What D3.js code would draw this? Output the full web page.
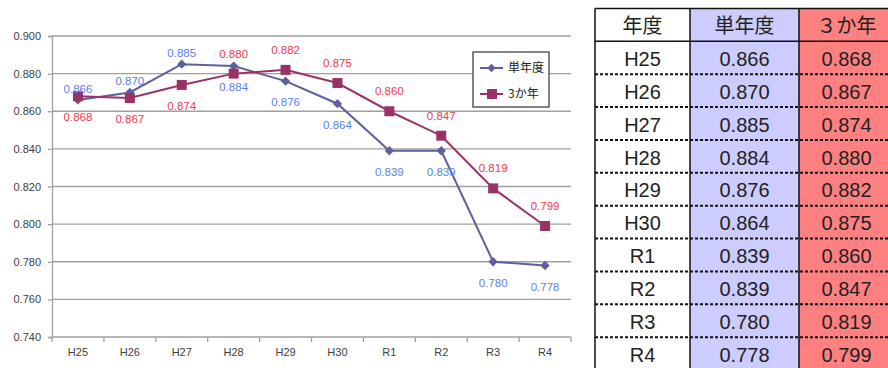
<!DOCTYPE html>
<html>
<head>
<meta charset="utf-8">
<script src="https://cdn.jsdelivr.net/npm/d3@7"></script>
<style>
  body { margin: 0; background: #fff; }
  svg { display: block; font-family: "Liberation Sans", Arial, "Noto Sans CJK JP", sans-serif; }
</style>
</head>
<body>
<div id="chart"></div>
<script>
// data
var years = ['H25', 'H26', 'H27', 'H28', 'H29', 'H30', 'R1', 'R2', 'R3', 'R4'];
var singleYear = [0.866, 0.870, 0.885, 0.884, 0.876, 0.864, 0.839, 0.839, 0.780, 0.778];
var threeYear = [0.868, 0.867, 0.874, 0.880, 0.882, 0.875, 0.860, 0.847, 0.819, 0.799];
var seriesNames = ['単年度', '3か年'];
var tableHeader = ['年度', '単年度', '３か年'];
// which side of the point each data label sits on
var singleSide = ['up', 'up', 'up', 'down', 'down', 'down', 'down', 'down', 'down', 'down'];
var threeSide = ['down', 'down', 'down', 'up', 'up', 'up', 'up', 'up', 'up', 'up'];

var W = 888, H = 368;
var svg = d3.select('#chart').append('svg').attr('width', W).attr('height', H);

// ---------- line chart ----------
var x = d3.scaleBand().domain(years).range([52, 571]);
var y = d3.scaleLinear().domain([0.74, 0.90]).range([337, 36]);

// gridlines + y axis
var yAxis = svg.append('g')
    .attr('transform', 'translate(52,0)')
    .call(d3.axisLeft(y).ticks(8).tickFormat(d3.format('.3f')).tickSize(4).tickPadding(7));
yAxis.select('.domain').attr('stroke', '#a0a0a0').attr('stroke-width', 1.3);
yAxis.selectAll('.tick line').attr('stroke', '#a0a0a0').attr('stroke-width', 1.3);
yAxis.selectAll('.tick text').attr('fill', '#404040').style('font-size', '11px');

svg.append('g').selectAll('line')
    .data(y.ticks(8).filter(function(d) { return d > 0.741; }))
    .enter().append('line')
    .attr('x1', 52).attr('x2', 571)
    .attr('y1', function(d) { return y(d); })
    .attr('y2', function(d) { return y(d); })
    .attr('stroke', '#a0a0a0').attr('stroke-width', 1.3);

// x axis with ticks between categories
var xAxis = svg.append('g').attr('transform', 'translate(0,337)');
xAxis.append('line').attr('x1', 52).attr('x2', 571).attr('stroke', '#a0a0a0').attr('stroke-width', 1.3);
xAxis.selectAll('.tk')
    .data(years.concat(['end']))
    .enter().append('line')
    .attr('x1', function(d, i) { return i < years.length ? x(d) : x.range()[1]; })
    .attr('x2', function(d, i) { return i < years.length ? x(d) : x.range()[1]; })
    .attr('y1', 0).attr('y2', 5)
    .attr('stroke', '#a0a0a0').attr('stroke-width', 1.3);
xAxis.selectAll('text')
    .data(years).enter().append('text')
    .attr('x', function(d) { return x(d) + x.bandwidth() / 2; })
    .attr('y', 19)
    .attr('text-anchor', 'middle')
    .attr('fill', '#404040')
    .style('font-size', '11px')
    .text(function(d) { return d; });

var cx = function(d, i) { return x(years[i]) + x.bandwidth() / 2; };
var line = d3.line().x(cx).y(function(d) { return y(d); });

var blue = '#5f5f9c', maroon = '#993366';

// 単年度
svg.append('path').datum(singleYear)
    .attr('d', line).attr('fill', 'none').attr('stroke', blue).attr('stroke-width', 2);
// 3か年
svg.append('path').datum(threeYear)
    .attr('d', line).attr('fill', 'none').attr('stroke', maroon).attr('stroke-width', 2);

svg.append('g').selectAll('path')
    .data(singleYear).enter().append('path')
    .attr('d', d3.symbol().type(d3.symbolDiamond2).size(55))
    .attr('transform', function(d, i) { return 'translate(' + cx(d, i) + ',' + y(d) + ')'; })
    .attr('fill', blue);

svg.append('g').selectAll('rect')
    .data(threeYear).enter().append('rect')
    .attr('x', function(d, i) { return cx(d, i) - 5; })
    .attr('y', function(d) { return y(d) - 5; })
    .attr('width', 10).attr('height', 10)
    .attr('fill', maroon);

// data labels
svg.append('g').selectAll('text')
    .data(singleYear).enter().append('text')
    .attr('x', cx)
    .attr('y', function(d, i) { return y(d) + (singleSide[i] === 'up' ? -11 : 21); })
    .attr('dy', '0.35em')
    .attr('text-anchor', 'middle')
    .attr('fill', '#5b7ff0')
    .style('font-size', '11.5px')
    .text(function(d) { return d3.format('.3f')(d); });

svg.append('g').selectAll('text')
    .data(threeYear).enter().append('text')
    .attr('x', cx)
    .attr('y', function(d, i) { return y(d) + (threeSide[i] === 'up' ? -20 : 21); })
    .attr('dy', '0.35em')
    .attr('text-anchor', 'middle')
    .attr('fill', '#f23c48')
    .style('font-size', '11.5px')
    .text(function(d) { return d3.format('.3f')(d); });

// legend
var legend = svg.append('g').attr('transform', 'translate(473,52)');
legend.append('rect').attr('width', 76).attr('height', 55)
    .attr('fill', '#fff').attr('stroke', '#333').attr('stroke-width', 1.2);
[blue, maroon].forEach(function(c, i) {
    var ly = 16 + i * 26;
    legend.append('line').attr('x1', 7).attr('x2', 30).attr('y1', ly).attr('y2', ly)
        .attr('stroke', c).attr('stroke-width', 2);
    if (i === 0) {
        legend.append('path').attr('d', d3.symbol().type(d3.symbolDiamond2).size(45))
            .attr('transform', 'translate(18.5,' + ly + ')').attr('fill', c);
    } else {
        legend.append('rect').attr('x', 14).attr('y', ly - 5).attr('width', 10).attr('height', 10).attr('fill', c);
    }
    legend.append('text').attr('x', 35).attr('y', ly).attr('dy', '0.36em')
        .attr('fill', '#222').style('font-size', '12px')
        .style('font-family', '"Noto Sans CJK JP", sans-serif')
        .text(seriesNames[i]);
});

// ---------- table ----------
var colX = [595, 690, 799, 888];
var colFill = ['#ffffff', '#ccccff', '#ff8080'];
var rowY = d3.scaleLinear().domain([0, years.length + 1]).range([8.5, 370]);
var table = svg.append('g');

colFill.forEach(function(f, c) {
    table.append('rect')
        .attr('x', colX[c]).attr('y', rowY(0))
        .attr('width', colX[c + 1] - colX[c]).attr('height', rowY(years.length + 1) - rowY(0))
        .attr('fill', f);
});

// row separators
table.selectAll('.sep')
    .data(d3.range(2, years.length + 1))
    .enter().append('line')
    .attr('x1', colX[0]).attr('x2', W)
    .attr('y1', function(d) { return rowY(d); })
    .attr('y2', function(d) { return rowY(d); })
    .attr('stroke', '#111').attr('stroke-width', 2).attr('stroke-dasharray', '3,2');
[0, 1].forEach(function(r) {
    table.append('line').attr('x1', colX[0]).attr('x2', W)
        .attr('y1', rowY(r)).attr('y2', rowY(r))
        .attr('stroke', '#111').attr('stroke-width', 1.5);
});
colX.slice(0, 3).forEach(function(cxv) {
    table.append('line').attr('x1', cxv).attr('x2', cxv)
        .attr('y1', rowY(0)).attr('y2', H)
        .attr('stroke', '#111').attr('stroke-width', 1.5);
});

var cellText = function(txt, c, r) {
    table.append('text')
        .attr('x', (colX[c] + colX[c + 1]) / 2 + (c === 2 ? 3 : 0))
        .attr('y', (rowY(r) + rowY(r + 1)) / 2 + 1)
        .attr('dy', '0.36em')
        .attr('text-anchor', 'middle')
        .attr('fill', '#222')
        .style('font-size', '20px')
        .style('font-family', '"Liberation Sans", "Noto Sans CJK JP", sans-serif')
        .text(txt);
};
tableHeader.forEach(function(t, c) { cellText(t, c, 0); });
years.forEach(function(yr, i) {
    cellText(yr, 0, i + 1);
    cellText(d3.format('.3f')(singleYear[i]), 1, i + 1);
    cellText(d3.format('.3f')(threeYear[i]), 2, i + 1);
});
</script>
</body>
</html>
